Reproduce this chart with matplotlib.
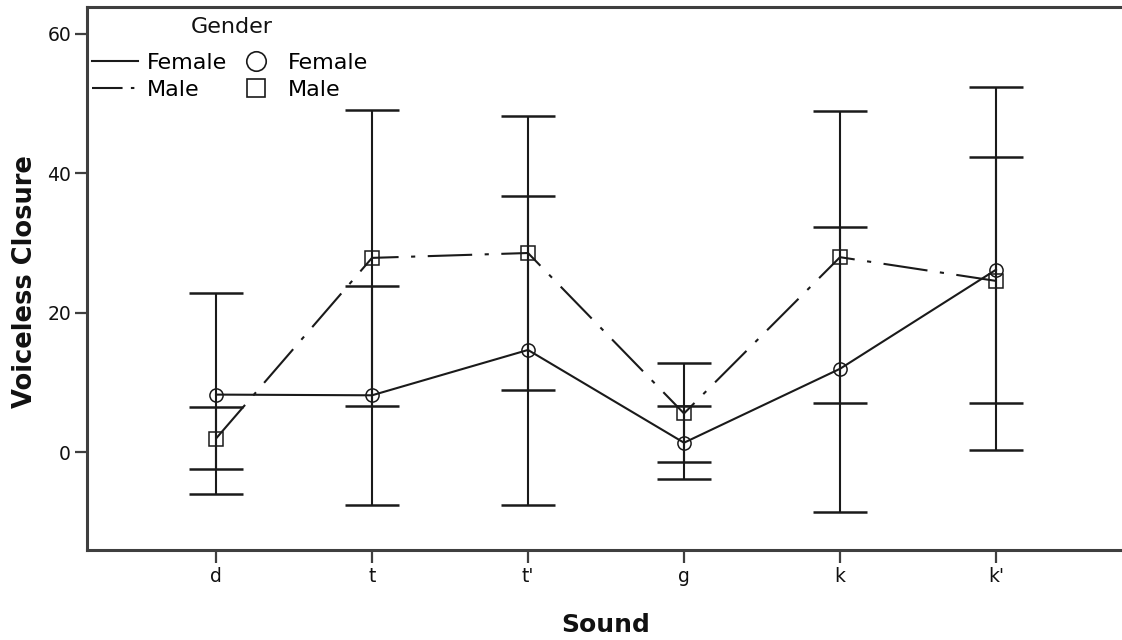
import matplotlib
matplotlib.use("Agg")
import matplotlib.pyplot as plt
from matplotlib.lines import Line2D
import numpy as np

plt.rcParams["font.family"] = ["DejaVu Sans"]
plt.rcParams["lines.scale_dashes"] = False

# Mean voiceless closure per sound, with 95% CI limits
sounds = ["d", "t", "t'", "g", "k", "k'"]
female_mean = [8.3, 8.2, 14.7, 1.4, 12.0, 26.2]
female_low = [-5.9, -7.5, -7.5, -3.8, -8.5, 0.4]
female_high = [22.8, 23.9, 36.8, 6.7, 32.4, 52.4]
male_mean = [2.0, 27.9, 28.6, 5.6, 28.0, 24.6]
male_low = [-2.3, 6.7, 8.9, -1.3, 7.1, 7.1]
male_high = [6.5, 49.1, 48.3, 12.8, 48.9, 42.3]

W, H = 1122, 640
fig = plt.figure(figsize=(W / 100, H / 100), dpi=100)
ax = fig.add_axes([87 / W, 90 / H, 1038 / W, 543 / H])

x = np.arange(len(sounds))
ink = "#1a1a1a"
axis_col = "#3f3f3f"
male_dashes = (32, 9, 3, 9)


def draw_group(mean, low, high, marker, dashes):
    mean = np.asarray(mean)
    err = np.vstack([mean - np.asarray(low), np.asarray(high) - mean])
    ax.errorbar(x, mean, yerr=err, fmt="none", ecolor=ink, elinewidth=1.5,
                capsize=19.5, capthick=1.8, zorder=2)
    line, = ax.plot(x, mean, color=ink, lw=1.5, zorder=3)
    if dashes is not None:
        line.set_dashes(dashes)
    ax.plot(x, mean, linestyle="none", marker=marker, markersize=9.5,
            markerfacecolor="none", markeredgecolor=ink, markeredgewidth=1.1,
            zorder=4)


draw_group(female_mean, female_low, female_high, "o", None)
draw_group(male_mean, male_low, male_high, "s", male_dashes)

ax.set_xlim(-0.827, 5.827)
ax.set_ylim(-13.98, 63.87)
ax.set_xticks(x)
ax.set_xticklabels(sounds)
ax.set_yticks([0, 20, 40, 60])

for side in ("left", "bottom", "top"):
    ax.spines[side].set_color(axis_col)
    ax.spines[side].set_linewidth(2.2)
ax.spines["right"].set_visible(False)
ax.tick_params(axis="both", direction="out", width=1.6, color=axis_col,
               labelsize=13.5, labelcolor="#111111", pad=3)
ax.tick_params(axis="x", length=9.5)
ax.tick_params(axis="y", length=8.5)

ax.set_xlabel("Sound", fontsize=18, fontweight="bold", color="#111111")
ax.set_ylabel("Voiceless Closure", fontsize=18.5, fontweight="bold",
              color="#111111")
ax.xaxis.set_label_coords(0.5, -0.116)
ax.yaxis.set_label_coords(-0.047, 0.494)

# Legend: line styles in the first column, marker shapes in the second
f_line = Line2D([], [], color=ink, lw=1.5)
m_line = Line2D([], [], color=ink, lw=1.5)
m_line.set_dashes((22, 6, 2.5, 6))
f_mark = Line2D([], [], linestyle="none", marker="o", markersize=14,
                markerfacecolor="none", markeredgecolor=ink, markeredgewidth=1.2)
m_mark = Line2D([], [], linestyle="none", marker="s", markersize=13,
                markerfacecolor="none", markeredgecolor=ink, markeredgewidth=1.2)
leg = ax.legend([f_line, m_line, f_mark, m_mark],
                ["Female", "Male", "Female", "Male"],
                ncol=2, frameon=False, fontsize=16, loc="upper left",
                bbox_to_anchor=(92 / W, 1 - 53 / H),
                bbox_transform=fig.transFigure, borderpad=0,
                borderaxespad=0, handlelength=2.07, handletextpad=0.4,
                columnspacing=0.27, labelspacing=0.32)
fig.text(232 / W, 1 - 27 / H, "Gender", fontsize=16, color="#111111",
         ha="center", va="center")

fig.savefig("out.png", dpi=100, facecolor="white")
